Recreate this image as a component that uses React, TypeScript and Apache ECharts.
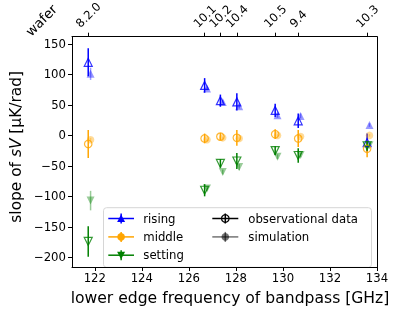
import React, { useEffect, useRef } from 'react';
import * as echarts from 'echarts';

// ---- data ----
const wafers = ['8.2.0', '10.1', '10.2', '10.4', '10.5', '9.4', '10.3'];
const freqs = [121.72, 126.67, 127.34, 128.04, 129.67, 130.65, 133.58];
const xTicks = [122, 124, 126, 128, 130, 132, 134];
const yTicks = [-200, -150, -100, -50, 0, 50, 100, 150];

const obsRising = [120, 82, 57, 55, 41, 24, -12];
const obsRisingErr = [23, 12, 10, 14, 11, 12, 15];
const obsMiddle = [-14, -5, -2, -4, 2, -5, -22];
const obsMiddleErr = [23, 8, 6, 13, 8, 14, 14];
const obsSetting = [-174, -90, -46, -42, -25, -33, -17];
const obsSettingErr = [25, 10, 7, 13, 7, 12, 8];

const simRising = [101, 77, 55, 48, 33, 32, 17];
const simRisingErr = [10, 3, 3, 4, 4, 4, 3];
const simMiddle = [-7, -7, -4, -5, 0, -2, 0];
const simMiddleErr = [3, 2, 2, 2, 2, 2, 2];
const simSetting = [-107, -87, -60, -52, -35, -32, -16];
const simSettingErr = [16, 4, 4, 5, 4, 4, 3];

const simShift = 0.1;

const BLUE = '#0000ff';
const ORANGE = '#ffa500';
const GREEN = '#008000';
const FONT = '"DejaVu Sans", "Liberation Sans", sans-serif';
const SIM_ALPHA = 0.4;

function errSeries(xs: number[], ys: number[], es: number[], color: string, opacity: number) {
  return {
    type: 'custom',
    silent: true,
    z: 2,
    clip: false,
    data: xs.map((x, i) => [x, ys[i], es[i]]),
    encode: { x: 0, y: 1 },
    renderItem: (_p: any, api: any) => {
      const x = api.value(0);
      const y = api.value(1);
      const e = api.value(2);
      const a = api.coord([x, y - e]);
      const b = api.coord([x, y + e]);
      return {
        type: 'line',
        shape: { x1: a[0], y1: a[1], x2: b[0], y2: b[1] },
        style: { stroke: color, lineWidth: 1.5, opacity },
      };
    },
  };
}

function markerSeries(xs: number[], ys: number[], color: string, kind: string, hollow: boolean) {
  const symbol = kind === 'o' ? 'circle' : 'triangle';
  return {
    type: 'scatter',
    silent: true,
    z: 3,
    symbol,
    symbolRotate: kind === 'v' ? 180 : 0,
    symbolSize: kind === 'o' ? 7.5 : 8,
    data: xs.map((x, i) => [x, ys[i]]),
    itemStyle: hollow
      ? { color: 'rgba(0,0,0,0)', borderColor: color, borderWidth: 1.2 }
      : { color, opacity: SIM_ALPHA, borderWidth: 0 },
  };
}

export default function App() {
  const ref = useRef<HTMLDivElement>(null);
  useEffect(() => {
    if (!ref.current) return;
    const chart = echarts.init(ref.current, null, { renderer: 'svg' });
    const simX = freqs.map((f) => f + simShift);
    const axisLine = { show: true, onZero: false, lineStyle: { color: '#000', width: 1 } };
    const option: any = {
      animation: false,
      grid: { left: 66.7, right: 38, top: 36.7, bottom: 37.7 },
      xAxis: [
        {
          type: 'value',
          position: 'bottom',
          min: 121.03,
          max: 134,
          axisLine,
          splitLine: { show: false },
          axisTick: { show: true, customValues: xTicks, length: 4, lineStyle: { color: '#000' } },
          axisLabel: { customValues: xTicks, color: '#000', fontSize: 11.7, fontFamily: FONT, margin: 5 },
          name: 'lower edge frequency of bandpass [GHz]',
          nameLocation: 'middle',
          nameGap: 23,
          nameTextStyle: { fontSize: 15.6, fontFamily: FONT, color: '#000', padding: [0, 0, 0, 11] },
        },
        {
          type: 'value',
          position: 'top',
          min: 121.03,
          max: 134,
          axisLine,
          splitLine: { show: false },
          axisTick: { show: true, customValues: freqs, length: 4, lineStyle: { color: '#000' } },
          axisLabel: { show: false },
        },
      ],
      yAxis: [
        {
          type: 'value',
          position: 'left',
          min: -216,
          max: 162,
          axisLine,
          splitLine: { show: false },
          axisTick: { show: true, customValues: yTicks, length: 4, lineStyle: { color: '#000' } },
          axisLabel: {
            customValues: yTicks,
            color: '#000',
            fontSize: 11.7,
            fontFamily: FONT,
            margin: 6,
            formatter: (v: number) => (v < 0 ? '\u2212' + Math.abs(v) : String(v)),
          },
          name: 'slope of {i|sV} [μK/rad]',
          nameLocation: 'middle',
          nameGap: 48,
          nameTextStyle: {
            fontSize: 15.4,
            fontFamily: FONT,
            color: '#000',
            padding: [0, 0, 0, 10],
            rich: { i: { fontStyle: 'italic', fontSize: 15.4, fontFamily: FONT, color: '#000' } },
          },
        },
        {
          type: 'value',
          position: 'right',
          min: -216,
          max: 162,
          axisLine,
          splitLine: { show: false },
          axisTick: { show: false },
          axisLabel: { show: false },
        },
      ],
      series: [
        errSeries(simX, simRising, simRisingErr, BLUE, SIM_ALPHA),
        errSeries(simX, simMiddle, simMiddleErr, ORANGE, SIM_ALPHA),
        errSeries(simX, simSetting, simSettingErr, GREEN, SIM_ALPHA),
        markerSeries(simX, simRising, BLUE, '^', false),
        markerSeries(simX, simMiddle, ORANGE, 'o', false),
        markerSeries(simX, simSetting, GREEN, 'v', false),
        errSeries(freqs, obsRising, obsRisingErr, BLUE, 1),
        errSeries(freqs, obsMiddle, obsMiddleErr, ORANGE, 1),
        errSeries(freqs, obsSetting, obsSettingErr, GREEN, 1),
        markerSeries(freqs, obsRising, BLUE, '^', true),
        markerSeries(freqs, obsMiddle, ORANGE, 'o', true),
        markerSeries(freqs, obsSetting, GREEN, 'v', true),
      ],
    };
    chart.setOption(option);

    // ---- top wafer labels, placed from the axis scale ----
    const canvas = document.createElement('canvas');
    const ctx = canvas.getContext('2d') as CanvasRenderingContext2D;
    ctx.font = '11.7px "DejaVu Sans"';
    const axisTop = chart.convertToPixel({ yAxisIndex: 0 }, 162) as number;
    const inkH = 0.73 * 11.7;
    const graphics: any[] = wafers.map((w, i) => {
      const px = chart.convertToPixel({ xAxisIndex: 1 }, freqs[i]) as number;
      const tw = ctx.measureText(w).width;
      const half = (tw + inkH) / (2 * Math.SQRT2);
      return {
        type: 'text',
        x: px,
        y: axisTop - 8.3 - half,
        rotation: Math.PI / 4,
        style: {
          text: w,
          fontSize: 11.7,
          fontFamily: FONT,
          fill: '#000',
          align: 'center',
          verticalAlign: 'middle',
        },
      };
    });
    const gridLeft = chart.convertToPixel({ xAxisIndex: 0 }, 121.03) as number;
    graphics.push({
      type: 'text',
      x: gridLeft - 31,
      y: 20,
      rotation: Math.PI / 4,
      style: { text: 'wafer', fontSize: 13.5, fontFamily: FONT, fill: '#000', align: 'center', verticalAlign: 'middle' },
    });

    // ---- legend ----
    const tri = (cx: number, cy: number, down: boolean) => {
      const s = 4;
      return down
        ? [[cx - s, cy - 3.5], [cx + s, cy - 3.5], [cx, cy + 4]]
        : [[cx, cy - 4], [cx + s, cy + 3.5], [cx - s, cy + 3.5]];
    };
    const handle = (x1: number, x2: number, cy: number, color: string, opacity: number, marker: any) => [
      { type: 'line', shape: { x1, y1: cy, x2, y2: cy }, style: { stroke: color, lineWidth: 1.5, opacity } },
      { type: 'line', shape: { x1: (x1 + x2) / 2, y1: cy - 5, x2: (x1 + x2) / 2, y2: cy + 5 }, style: { stroke: color, lineWidth: 1.5, opacity } },
      marker,
    ];
    const rows = [10.8, 29.2, 47.5];
    const cols = [
      { label: 'rising', color: BLUE, kind: '^' },
      { label: 'middle', color: ORANGE, kind: 'o' },
      { label: 'setting', color: GREEN, kind: 'v' },
    ];
    const children: any[] = [
      {
        type: 'rect',
        shape: { x: 0, y: 0, width: 268, height: 59.6, r: 3 },
        style: { fill: 'rgba(255,255,255,0.8)', stroke: '#d6d6d6', lineWidth: 1 },
      },
    ];
    cols.forEach((c, i) => {
      const cy = rows[i];
      const cx = 17.6;
      const marker =
        c.kind === 'o'
          ? { type: 'circle', shape: { cx, cy, r: 3.8 }, style: { fill: c.color } }
          : { type: 'polygon', shape: { points: tri(cx, cy, c.kind === 'v') }, style: { fill: c.color } };
      children.push(...handle(4.8, 30.5, cy, c.color, 1, marker));
      children.push({
        type: 'text',
        x: 39.8,
        y: cy,
        style: { text: c.label, fontSize: 11.7, fontFamily: FONT, fill: '#000', verticalAlign: 'middle' },
      });
    });
    children.push(
      ...handle(108.8, 134.8, rows[0], '#000', 1, {
        type: 'circle',
        shape: { cx: 121.8, cy: rows[0], r: 3.8 },
        style: { fill: 'rgba(0,0,0,0)', stroke: '#000', lineWidth: 1.2 },
      })
    );
    children.push({
      type: 'text',
      x: 144.8,
      y: rows[0],
      style: { text: 'observational data', fontSize: 11.7, fontFamily: FONT, fill: '#000', verticalAlign: 'middle' },
    });
    children.push(
      ...handle(108.8, 134.8, rows[1], '#000', 0.55, {
        type: 'circle',
        shape: { cx: 121.8, cy: rows[1], r: 3.8 },
        style: { fill: '#000', opacity: 0.55 },
      })
    );
    children.push({
      type: 'text',
      x: 144.8,
      y: rows[1],
      style: { text: 'simulation', fontSize: 11.7, fontFamily: FONT, fill: '#000', verticalAlign: 'middle' },
    });
    graphics.push({ type: 'group', x: 103.5, y: 207.7, z: 100, children });

    chart.setOption({ graphic: graphics });
    return () => chart.dispose();
  }, []);
  return <div ref={ref} style={{ position: 'fixed', left: 0, top: 0, width: 415, height: 311 }} />;
}
